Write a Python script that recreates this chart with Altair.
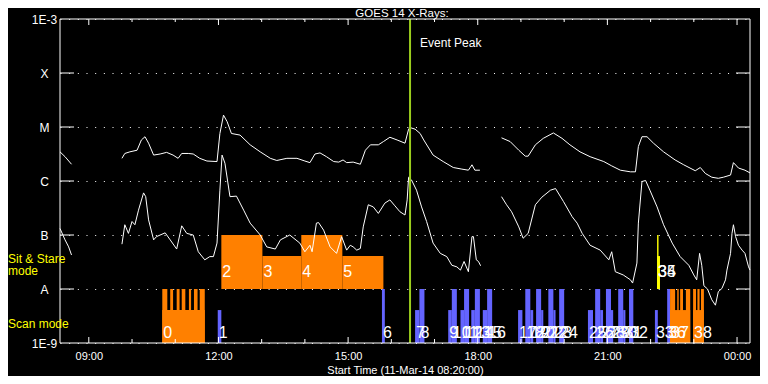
import altair as alt
import pandas as pd

# ---------------- GOES 14 X-ray flux ----------------
# time = minutes after the start time (08:20), value = log10(flux, W/m^2)
long_a_t = [0, 7, 16]
long_a_v = [-5.46, -5.55, -5.69]
long_b_t = [86, 90, 97, 107, 113, 118, 123, 130, 139, 148,
            157, 164, 169, 178, 185, 194, 204, 218, 222, 227,
            232, 238, 250, 264, 278, 292, 301, 315, 329, 340,
            347, 354, 361, 370, 380, 387, 393, 398, 407, 417,
            424, 431, 442, 449, 458, 468, 479, 484, 486, 493,
            500, 505, 518, 532, 546, 558, 567, 572, 576, 583]
long_b_v = [-5.58, -5.49, -5.46, -5.43, -5.24, -5.18, -5.30, -5.52, -5.50, -5.47,
            -5.52, -5.58, -5.49, -5.49, -5.50, -5.58, -5.63, -5.64, -5.12, -4.78,
            -4.90, -5.12, -5.15, -5.33, -5.46, -5.58, -5.62, -5.58, -5.58, -5.63,
            -5.66, -5.50, -5.48, -5.55, -5.64, -5.65, -5.61, -5.66, -5.65, -5.69,
            -5.43, -5.33, -5.33, -5.27, -5.19, -5.24, -5.30, -5.04, -5.01, -5.04,
            -5.12, -5.24, -5.52, -5.64, -5.75, -5.78, -5.80, -5.70, -5.80, -5.80]
long_c_t = [613, 625, 637, 646, 650, 660, 671, 685, 697, 708,
            722, 736, 755, 766, 778, 792, 799, 803, 808, 815,
            824, 838, 854, 866, 882, 889, 896, 905, 914, 921,
            931, 935, 942, 951, 958]
long_c_v = [-5.20, -5.27, -5.43, -5.54, -5.54, -5.33, -5.21, -5.11, -5.21, -5.33,
            -5.46, -5.55, -5.64, -5.72, -5.80, -5.83, -5.83, -5.36, -5.18, -5.18,
            -5.30, -5.46, -5.61, -5.70, -5.81, -5.75, -5.86, -5.93, -5.95, -5.93,
            -5.89, -5.66, -5.76, -5.80, -5.85]

short_a_t = [0, 7, 12, 16]
short_a_v = [-6.88, -7.09, -7.22, -7.37]
short_b_t = [86, 90, 95, 100, 104, 109, 116, 119, 123, 130,
             134, 146, 153, 162, 169, 176, 185, 192, 201, 208,
             213, 218, 222, 225, 229, 236, 245, 255, 264, 278,
             287, 299, 306, 319, 333, 340, 347, 350, 356, 359,
             366, 375, 384, 391, 398, 403, 407, 412, 417, 421,
             428, 435, 442, 451, 458, 465, 472, 479, 482, 484,
             488, 495, 502, 509, 518, 528, 537, 544, 551, 556,
             561, 567, 572, 574, 578, 581, 584]
short_b_v = [-7.17, -6.81, -6.97, -6.75, -6.81, -6.54, -6.22, -6.29, -6.72, -7.09,
             -7.03, -6.96, -7.09, -7.26, -6.83, -6.97, -7.00, -7.31, -7.46, -7.40,
             -7.40, -7.15, -6.17, -5.52, -5.67, -6.29, -6.28, -6.54, -6.78, -7.00,
             -7.22, -7.26, -7.09, -7.00, -7.15, -7.31, -7.19, -7.31, -6.78, -6.77,
             -6.91, -7.22, -7.34, -7.03, -7.28, -7.19, -7.22, -7.28, -7.25, -6.85,
             -6.44, -6.48, -6.60, -6.41, -6.35, -6.46, -6.57, -6.63, -6.35, -5.93,
             -5.98, -6.17, -6.48, -6.75, -7.15, -7.34, -7.40, -7.56, -7.59, -7.65,
             -7.49, -7.68, -7.03, -7.03, -7.46, -7.49, -7.57]
short_c_t = [613, 620, 627, 637, 643, 650, 660, 669, 681, 688,
             699, 711, 718, 725, 736, 750, 762, 766, 771, 782,
             792, 795, 801, 803, 808, 813, 819, 829, 838, 850,
             861, 873, 880, 884, 888, 891, 894, 899, 905, 910,
             914, 919, 924, 926, 931, 933, 935, 938, 942, 947,
             951, 956, 958]
short_c_v = [-6.29, -6.44, -6.57, -6.85, -7.06, -6.97, -6.44, -6.30, -6.17, -6.14,
             -6.38, -6.66, -6.78, -6.97, -7.19, -7.28, -7.46, -7.31, -7.68, -7.74,
             -7.83, -7.89, -7.52, -6.78, -6.01, -5.99, -6.17, -6.48, -6.81, -7.15,
             -7.40, -7.56, -7.74, -7.83, -7.34, -7.56, -7.94, -8.00, -8.20, -8.30,
             -8.05, -7.99, -7.83, -7.65, -7.34, -6.97, -6.81, -7.03, -7.19, -7.28,
             -7.34, -7.59, -7.65]

# ---------------- Observations (UT) ----------------
obs_start = ["10:42", "11:59", "12:04", "13:01", "13:55", "14:52", "15:47", "16:33", "16:39", "17:19",
             "17:24", "17:36", "17:41", "17:51", "17:56", "18:07", "18:13", "18:56", "19:06", "19:13",
             "19:21", "19:28", "19:38", "19:45", "19:53", "20:33", "20:43", "20:50", "20:58", "21:05",
             "21:15", "21:22", "21:30", "22:06", "22:09", "22:09", "22:23", "22:27", "22:59"]
obs_end = ["11:41", "12:04", "13:01", "13:55", "14:52", "15:49", "15:51", "16:39", "16:46", "17:24",
           "17:31", "17:41", "17:48", "17:56", "18:03", "18:13", "18:20", "19:02", "19:13", "19:17",
           "19:28", "19:31", "19:45", "19:48", "20:00", "20:40", "20:50", "20:54", "21:05", "21:08",
           "21:22", "21:25", "21:36", "22:10", "22:11", "22:13", "22:27", "22:55", "23:14"]
obs_mode = ["scan", "scan", "sit", "sit", "sit", "sit"] + ["scan"] * 28 + ["sit", "sit"] + ["scan"] * 3
obs_prog = ["A", "B", "A", "A", "A", "A"] + ["B"] * 28 + ["C", "C"] + ["B", "A", "A"]

# raster steps inside multi-raster observations
raster_obs = [0] * 7 + [37] * 4 + [38] * 3
raster_start = ["10:42", "10:53", "11:02", "11:09", "11:19", "11:26", "11:34",
                "22:27", "22:37", "22:41", "22:49", "22:59", "23:05", "23:10"]
raster_end = ["10:49", "10:57", "11:06", "11:14", "11:22", "11:31", "11:41",
              "22:34", "22:39", "22:45", "22:55", "23:03", "23:08", "23:14"]

event_peak = "16:26"
start_time = "08:20"
end_minutes = 958

flux_levels = [-9, -8, -7, -6, -5, -4, -3]
flux_names = ["1E-9", "A", "B", "C", "M", "X", "1E-3"]

# ---------------- helpers ----------------
def hm(s):
    h, m = map(int, s.split(":"))
    return h * 60 + m

T0 = hm(start_time)

def rel(s):
    return hm(s) - T0

W, H = 690, 324
FONT = "Liberation Sans"
band = {"scan": (-9.0, -8.0, -8.39, -8.81), "sit": (-8.0, -7.0, -7.39, -7.68)}

curve_rows = []
for name, ts, vs in [("la", long_a_t, long_a_v), ("lb", long_b_t, long_b_v), ("lc", long_c_t, long_c_v),
                     ("sa", short_a_t, short_a_v), ("sb", short_b_t, short_b_v), ("sc", short_c_t, short_c_v)]:
    for t, v in zip(ts, vs):
        curve_rows.append({"seg": name, "t": t, "v": v})
curves = pd.DataFrame(curve_rows)

bar_rows, lab_rows = [], []
for i, (s, e, mode, prog) in enumerate(zip(obs_start, obs_end, obs_mode, obs_prog)):
    base, tall, short, lab = band[mode]
    top = tall if (i % 2 == 0 and i not in raster_obs) else short
    bar_rows.append({"t": rel(s), "t2": rel(e), "v": base, "v2": top, "prog": prog, "k": len(bar_rows)})
    lab_rows.append({"t": rel(s), "v": lab, "label": str(i)})
    if i in raster_obs:
        for ro, rs, re_ in zip(raster_obs, raster_start, raster_end):
            if ro == i:
                bar_rows.append({"t": rel(rs), "t2": rel(re_), "v": base, "v2": tall, "prog": prog,
                                 "k": len(bar_rows)})
bars = pd.DataFrame(bar_rows)
labels = pd.DataFrame(lab_rows)

hour_ticks = [m for m in range(0, end_minutes + 1) if (m + T0) % 60 == 0]
major_ticks = [m for m in hour_ticks if ((m + T0) // 60) % 3 == 0]
minor_ticks = [m for m in hour_ticks if m not in major_ticks]

xs = alt.Scale(domain=[0, end_minutes], nice=False, zero=False)
ys = alt.Scale(domain=[-9, -3], nice=False, zero=False)

hexpr = f"floor((datum.value+{T0})/60)%24"
x_axis = alt.Axis(values=major_ticks, labelExpr=f"({hexpr} < 10 ? '0' : '') + ({hexpr}) + ':00'",
                  ticks=False, tickSize=0, domain=False, grid=False,
                  labelColor="white", labelFont=FONT, labelFontSize=11, labelPadding=7,
                  labelFlush=False,
                  title="Start Time (11-Mar-14 08:20:00)", titleColor="white", titleFont=FONT,
                  titleFontSize=11, titleFontWeight="normal", titlePadding=3)
y_axis = alt.Axis(values=flux_levels,
                  labelExpr="[" + ",".join(f"'{n}'" for n in flux_names) + "][datum.value+9]",
                  ticks=False, tickSize=0, domain=False, grid=True, gridColor="white",
                  gridDash=[1, 7.67], gridWidth=1, gridOpacity=1,
                  labelColor="white", labelFont=FONT, labelFontSize=12, labelAlign="center",
                  labelBaseline="middle", labelPadding=16, title=None)

X = alt.X("t:Q", scale=xs, axis=x_axis)
Y = alt.Y("v:Q", scale=ys, axis=y_axis)

bar_layer = alt.Chart(bars).mark_rect(strokeWidth=0).encode(
    x=X, x2=alt.X2("t2"), y=Y, y2=alt.Y2("v2"),
    color=alt.Color("prog:N", scale=alt.Scale(domain=["A", "B", "C"],
                                              range=["#FF8000", "#6464FF", "#FFFF00"]), legend=None),
    order=alt.Order("k:Q"))

curve_layer = alt.Chart(curves).mark_line(color="white", strokeWidth=1).encode(
    x=X, y=Y, detail="seg:N")

label_layer = alt.Chart(labels).mark_text(color="white", font=FONT, fontSize=16, align="left",
                                          baseline="middle", dx=1).encode(x=X, y=Y, text="label:N")

lev = pd.DataFrame({"v": flux_levels[1:-1]})
left_ticks = alt.Chart(lev).mark_rule(color="white").encode(x=alt.value(0), x2=alt.value(14), y=Y)
right_ticks = alt.Chart(lev).mark_rule(color="white").encode(x=alt.value(W - 14), x2=alt.value(W), y=Y)

maj = pd.DataFrame({"t": major_ticks})
mnr = pd.DataFrame({"t": minor_ticks})
top_major = alt.Chart(maj).mark_rule(color="white").encode(x=X, y=alt.value(0), y2=alt.value(6))
top_minor = alt.Chart(mnr).mark_rule(color="white").encode(x=X, y=alt.value(0), y2=alt.value(3))
bot_major = alt.Chart(maj).mark_rule(color="white").encode(x=X, y=alt.value(H - 6), y2=alt.value(H))
bot_minor = alt.Chart(mnr).mark_rule(color="white").encode(x=X, y=alt.value(H - 4), y2=alt.value(H))

ev = pd.DataFrame({"t": [rel(event_peak)], "txt": ["Event Peak"]})
event_rule = alt.Chart(ev).mark_rule(color="#9BCD1E", strokeWidth=2).encode(x=X)
event_text = alt.Chart(ev).mark_text(color="white", font=FONT, fontSize=12, align="left",
                                     baseline="middle", dx=10).encode(x=X, y=alt.value(24), text="txt:N")

frame = alt.Chart(pd.DataFrame({"a": [0]})).mark_rect(fillOpacity=0, stroke="white", strokeWidth=1).encode(
    x=alt.value(0), x2=alt.value(W), y=alt.value(0), y2=alt.value(H))

def free_text(s, x, y, color="white", size=12, align="left", baseline="middle"):
    return alt.Chart(pd.DataFrame({"s": [s]})).mark_text(
        color=color, font=FONT, fontSize=size, align=align, baseline=baseline).encode(
        x=alt.value(x), y=alt.value(y), text="s:N")

title = free_text("GOES 14 X-Rays:", W / 2 - 3, -2.5, size=11.5, align="center", baseline="alphabetic")
sit1 = free_text("Sit & Stare", -52, 239.5, color="#FFFF00")
sit2 = free_text("mode", -37, 252, color="#FFFF00", align="center")
scan = free_text("Scan mode", -52, 305, color="#FFFF00")

chart = alt.layer(
    bar_layer, curve_layer, label_layer, left_ticks, right_ticks,
    top_major, top_minor, bot_major, bot_minor, event_rule, event_text, frame,
    title, sit1, sit2, scan
).properties(
    width=W, height=H, background="black",
    autosize=alt.AutoSizeParams(type="none"),
    padding={"left": 52, "top": 11, "right": 10, "bottom": 33}
).configure_view(stroke=None, fill="black")

chart.save("out.html", embed_options={"renderer": "svg", "actions": False})
